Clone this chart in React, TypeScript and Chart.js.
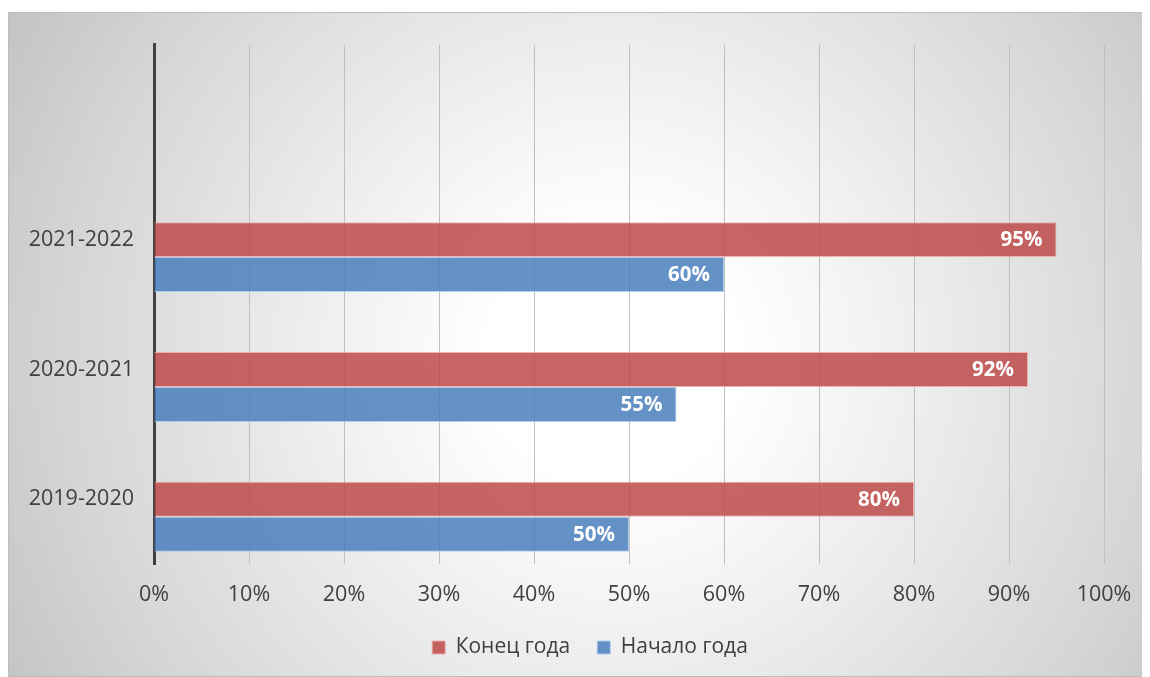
import React, { useEffect, useRef } from "react";
import { Chart, registerables } from "chart.js";

Chart.register(...registerables);

// Data (bottom-to-top order as shown in the reference)
const categories = ["2019-2020", "2020-2021", "2021-2022"];
const endOfYear = [80, 92, 95]; // Конец года
const startOfYear = [50, 55, 60]; // Начало года
const xTicks = [0, 10, 20, 30, 40, 50, 60, 70, 80, 90, 100];
const seriesNames = ["Конец года", "Начало года"];

const FONT = "'Open Sans', 'DejaVu Sans', sans-serif";

const bgPlugin = {
  id: "bgPlugin",
  beforeDraw(chart: any) {
    const { ctx, width, height } = chart;
    ctx.save();
    const cx = width * 0.53;
    const cy = height * 0.52;
    const g = ctx.createRadialGradient(cx, cy, 0, cx, cy, 690);
    g.addColorStop(0, "#ffffff");
    g.addColorStop(0.18, "#ffffff");
    g.addColorStop(0.41, "#f0f0f0");
    g.addColorStop(0.78, "#d6d6d6");
    g.addColorStop(1, "#c4c4c4");
    ctx.fillStyle = g;
    ctx.fillRect(0, 0, width, height);
    ctx.strokeStyle = "#bdbdbd";
    ctx.lineWidth = 1;
    ctx.beginPath();
    ctx.moveTo(width + 2, 0.5);
    ctx.lineTo(0.5, 0.5);
    ctx.lineTo(0.5, height - 0.5);
    ctx.lineTo(width + 2, height - 0.5);
    ctx.stroke();
    ctx.restore();
  },
};

// shift the legend to the right, as in the reference
const legendShift = {
  id: "legendShift",
  afterLayout(chart: any) {
    const lg = chart.legend;
    if (lg) {
      lg.left += 34;
      lg.right += 34;
    }
  },
};

const valueLabels = {
  id: "valueLabels",
  afterDatasetsDraw(chart: any) {
    const { ctx } = chart;
    ctx.save();
    ctx.font = `bold 20.5px ${FONT}`;
    ctx.fillStyle = "#ffffff";
    ctx.textAlign = "right";
    ctx.textBaseline = "middle";
    chart.data.datasets.forEach((ds: any, di: number) => {
      if (!ds.label) return;
      const meta = chart.getDatasetMeta(di);
      meta.data.forEach((bar: any, i: number) => {
        const v = ds.data[i];
        if (v === null || v === undefined) return;
        ctx.fillText(`${v}%`, bar.x - 14, bar.y + 1);
      });
    });
    ctx.restore();
  },
};

export default function App() {
  const ref = useRef<HTMLCanvasElement | null>(null);

  useEffect(() => {
    if (!ref.current) return;
    // top-to-bottom labels, with empty category at top
    const labels = ["", ...[...categories].reverse()];
    const endData = [null, ...[...endOfYear].reverse()];
    const startData = [null, ...[...startOfYear].reverse()];

    const chart = new Chart(ref.current, {
      type: "bar",
      data: {
        labels,
        datasets: [
          {
            label: "",
            data: labels.map(() => null),
            backgroundColor: "transparent",
          },
          {
            label: seriesNames[0],
            data: endData,
            backgroundColor: "rgba(188,74,72,0.85)",
            borderColor: "rgba(240,170,170,0.9)",
            borderWidth: 1,
          },
          {
            label: seriesNames[1],
            data: startData,
            backgroundColor: "rgba(74,127,188,0.85)",
            borderColor: "rgba(170,200,235,0.9)",
            borderWidth: 1,
          },
        ] as any,
      },
      options: {
        indexAxis: "y",
        animation: false,
        responsive: false,
        maintainAspectRatio: false,
        layout: { padding: { top: 30, right: 46, bottom: 9, left: 0 } },
        datasets: {
          bar: { categoryPercentage: 105 / 130, barPercentage: 1 },
        } as any,
        scales: {
          x: {
            min: 0,
            max: 100,
            afterBuildTicks: (scale: any) => {
              scale.ticks = xTicks.map((v) => ({ value: v }));
            },
            afterFit: (scale: any) => {
              scale.height = scale.height - 16;
            },
            grid: {
              color: (c: any) => (c.index === 0 ? "transparent" : "#bfbfbf"),
              lineWidth: 1,
              drawTicks: false,
            },
            border: { display: false },
            ticks: {
              padding: 18,
              color: "#404040",
              font: { family: FONT, size: 21.5 },
              callback: (v: any) => `${v}%`,
            },
          },
          y: {
            afterFit: (scale: any) => {
              scale.width = 146;
            },
            grid: { display: false, drawTicks: false },
            border: { display: true, color: "#404040", width: 3 },
            ticks: {
              padding: 20,
              color: "#404040",
              font: { family: FONT, size: 21.5 },
            },
          },
        },
        plugins: {
          legend: {
            position: "bottom",
            labels: {
              boxWidth: 13,
              boxHeight: 13,
              padding: 27,
              color: "#404040",
              font: { family: FONT, size: 21 },
              filter: (item: any) => item.text !== "",
            },
          },
          tooltip: { enabled: false },
        },
      } as any,
      plugins: [bgPlugin, legendShift, valueLabels],
    });
    return () => chart.destroy();
  }, []);

  return (
    <div style={{ paddingTop: 4 }}>
      <div style={{ width: 1142, height: 665 }}>
        <canvas ref={ref} width={1142} height={665} style={{ display: "block" }} />
      </div>
    </div>
  );
}
